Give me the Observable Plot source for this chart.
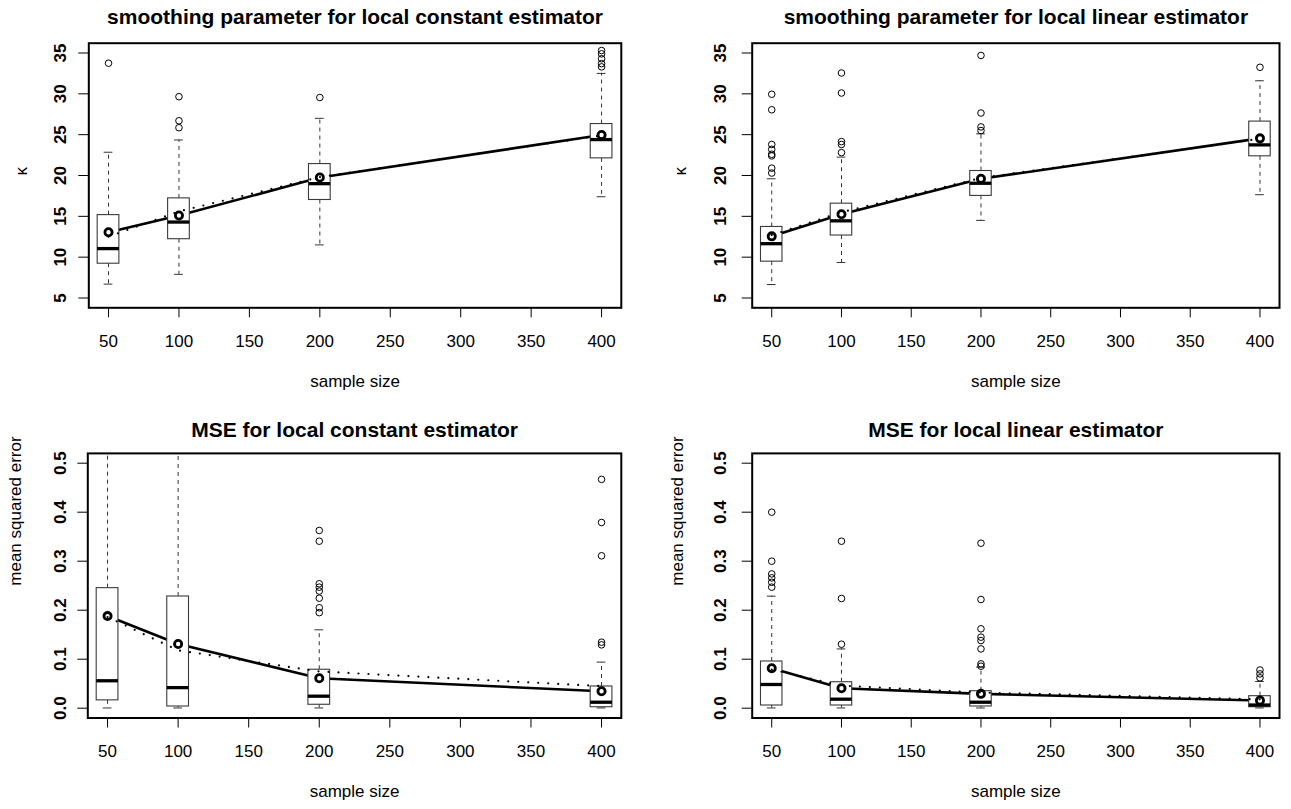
<!DOCTYPE html>
<html>
<head>
<meta charset="utf-8">
<script src="https://cdn.jsdelivr.net/npm/d3@7"></script>
<script src="https://cdn.jsdelivr.net/npm/@observablehq/plot@0.6"></script>
<style>
  html, body { margin: 0; padding: 0; background: white; }
  #wrap { position: relative; width: 1291px; height: 809px; overflow: hidden; background: white; }
  #wrap svg { position: absolute; }
</style>
</head>
<body>
<div id="wrap"></div>
<script>
// ---------- data ----------
const sizes = [50, 100, 200, 400];
const xTicks = [50, 100, 150, 200, 250, 300, 350, 400];
const kappaTicks = [5, 10, 15, 20, 25, 30, 35];
const mseTicks = [0, 0.1, 0.2, 0.3, 0.4, 0.5];

const titles = [
  "smoothing parameter for local constant estimator",
  "smoothing parameter for local linear estimator",
  "MSE for local constant estimator",
  "MSE for local linear estimator"
];
const xLabel = "sample size";
const kappaLabel = "κ";
const mseLabel = "mean squared error";

// local constant, kappa
const kcQ1 = [9.2, 12.2, 17.0, 22.1];
const kcMed = [11.05, 14.3, 19.0, 24.4];
const kcQ3 = [15.15, 17.2, 21.4, 26.3];
const kcLo = [6.7, 7.9, 11.5, 17.4];
const kcHi = [22.85, 24.35, 27.0, 32.5];
const kcMean = [13.06, 15.1, 19.75, 24.95];
const kcRef = [12.5, 15.6, 19.8, 24.9];
const kcOut = [[33.75], [29.65, 26.7, 25.85], [29.55], [35.3, 34.9, 34.3, 33.7, 33.3]];

// local linear, kappa
const klQ1 = [9.45, 12.65, 17.5, 22.35];
const klMed = [11.65, 14.45, 19.05, 23.75];
const klQ3 = [13.7, 16.55, 20.55, 26.6];
const klLo = [6.65, 9.35, 14.5, 17.65];
const klHi = [19.6, 22.25, 25.1, 31.6];
const klMean = [12.55, 15.25, 19.6, 24.55];
const klRef = [12.7, 15.5, 19.7, 24.5];
const klOut = [[29.95, 28.05, 23.8, 23.2, 22.6, 22.4, 20.9, 20.3], [32.55, 30.1, 24.15, 23.8, 22.8], [34.7, 27.65, 25.95, 25.5], [33.25]];

// local constant, MSE
const mcQ1 = [0.016, 0.0035, 0.007, 0.002];
const mcMed = [0.056, 0.042, 0.0245, 0.0122];
const mcQ3 = [0.245, 0.228, 0.0785, 0.0443];
const mcLo = [0.0005, 0.0005, 0.0005, 0.0005];
const mcHi = [0.68, 0.75, 0.16, 0.094];
const mcMean = [0.188, 0.131, 0.061, 0.0347];
const mcRef = [0.186, 0.118, 0.075, 0.045];
const mcOut = [[], [], [0.3627, 0.3408, 0.254, 0.247, 0.239, 0.2245, 0.205, 0.195], [0.467, 0.379, 0.311, 0.1347, 0.1293]];

// local linear, MSE
const mlQ1 = [0.0055, 0.0055, 0.0035, 0.002];
const mlMed = [0.0484, 0.0184, 0.0122, 0.0065];
const mlQ3 = [0.0953, 0.053, 0.0347, 0.0245];
const mlLo = [0.0005, 0.0005, 0.0005, 0.0005];
const mlHi = [0.2286, 0.121, 0.0837, 0.0545];
const mlMean = [0.0817, 0.0408, 0.0293, 0.0157];
const mlRef = [0.079, 0.046, 0.032, 0.018];
const mlOut = [[0.4, 0.3, 0.274, 0.266, 0.257, 0.247], [0.3408, 0.2239, 0.1306], [0.3367, 0.2218, 0.162, 0.145, 0.138, 0.121, 0.0905, 0.0857], [0.078, 0.07, 0.062]];

// ---------- drawing ----------
const FONT = "'Liberation Sans', Arial, Helvetica, sans-serif";
const BW = 7.7;   // half box width (x units)
const CW = 3.1;   // half whisker cap width

function rowsOf(q1, med, q3, lo, hi, mean, ref) {
  return sizes.map((n, i) => ({n, q1: q1[i], med: med[i], q3: q3[i], lo: lo[i], hi: hi[i], mean: mean[i], ref: ref[i]}));
}
function outsOf(out) {
  return out.flatMap((vals, i) => vals.map(v => ({n: sizes[i], v})));
}

function panel(cfg) {
  const rows = rowsOf(...cfg.stats);
  const outs = outsOf(cfg.out);
  const svg = Plot.plot({
    width: cfg.width, height: cfg.height,
    marginLeft: cfg.ml, marginRight: cfg.mr, marginTop: cfg.mt, marginBottom: cfg.mb,
    style: {fontFamily: FONT, fontSize: "17px", background: "white", overflow: "visible", color: "black"},
    x: {domain: [36, 414]},
    y: {domain: cfg.yDomain},
    marks: [
      Plot.line(rows, {x: "n", y: "mean", stroke: "black", strokeWidth: 2.6}),
      Plot.ruleX(rows, {x: "n", y1: "q3", y2: "hi", stroke: "#333", strokeWidth: 1, strokeDasharray: "4,4", clip: true}),
      Plot.ruleX(rows, {x: "n", y1: "q1", y2: "lo", stroke: "#333", strokeWidth: 1, strokeDasharray: "4,4", clip: true}),
      Plot.ruleY(rows, {y: "hi", x1: d => d.n - CW, x2: d => d.n + CW, stroke: "#333", strokeWidth: 1, clip: true}),
      Plot.ruleY(rows, {y: "lo", x1: d => d.n - CW, x2: d => d.n + CW, stroke: "#333", strokeWidth: 1, clip: true}),
      Plot.rect(rows, {x1: d => d.n - BW, x2: d => d.n + BW, y1: "q1", y2: "q3", fill: "white", stroke: "#3a3a3a", strokeWidth: 1.1}),
      Plot.ruleY(rows, {y: "med", x1: d => d.n - BW, x2: d => d.n + BW, stroke: "black", strokeWidth: 3.3}),
      Plot.line(rows, {x: "n", y: "ref", stroke: "black", strokeWidth: 2.2, strokeDasharray: "0,10", strokeLinecap: "round"}),
      Plot.dot(outs, {x: "n", y: "v", r: 3.3, stroke: "black", strokeWidth: 1, fill: "none"}),
      Plot.dot(rows, {x: "n", y: "mean", r: 3.6, stroke: "black", strokeWidth: 2.8, fill: "none"}),
      Plot.frame({stroke: "black", strokeWidth: 2}),
      Plot.axisX(xTicks, {tickSize: 10, tickPadding: 17, label: null, fontSize: 17}),
      Plot.axisY(cfg.yTicks, {tickSize: 10, tickRotate: -90, tickPadding: cfg.yPad, label: null, fontSize: 17, fontWeight: "bold", tickFormat: cfg.fmt}),
      Plot.text([cfg.title], {frameAnchor: "top", dy: cfg.titleDy, lineAnchor: "bottom", fontSize: 21, fontWeight: "bold"}),
      Plot.text([xLabel], {frameAnchor: "bottom", dy: 79, lineAnchor: "bottom", fontSize: 17}),
      Plot.text([cfg.yLabel], {frameAnchor: "left", rotate: -90, dx: cfg.yLabelDx, lineAnchor: "bottom", fontSize: 17})
    ]
  });
  svg.style.left = cfg.left + "px";
  svg.style.top = cfg.top + "px";
  document.getElementById("wrap").appendChild(svg);
}

const fmtK = d => String(d);
const fmtM = d3.format(".1f");

panel({left: 0, top: 0, width: 645, height: 404, ml: 88.3, mr: 24.2, mt: 42.7, mb: 96.7,
  yDomain: [3.8, 36.2], yTicks: kappaTicks, fmt: fmtK, yPad: 12.6, yLabel: kappaLabel, yLabelDx: -62,
  title: titles[0], titleDy: -19.4,
  stats: [kcQ1, kcMed, kcQ3, kcLo, kcHi, kcMean, kcRef], out: kcOut});
panel({left: 645, top: 0, width: 646, height: 404, ml: 106.7, mr: 12, mt: 42.7, mb: 96.7,
  yDomain: [3.8, 36.2], yTicks: kappaTicks, fmt: fmtK, yPad: 16.7, yLabel: kappaLabel, yLabelDx: -66.7,
  title: titles[1], titleDy: -19.4,
  stats: [klQ1, klMed, klQ3, klLo, klHi, klMean, klRef], out: klOut});
panel({left: 0, top: 404, width: 645, height: 405, ml: 87.3, mr: 24.2, mt: 48.9, mb: 91.5,
  yDomain: [-0.02, 0.52], yTicks: mseTicks, fmt: fmtM, yPad: 12.3, yLabel: mseLabel, yLabelDx: -67,
  title: titles[2], titleDy: -16.9,
  stats: [mcQ1, mcMed, mcQ3, mcLo, mcHi, mcMean, mcRef], out: mcOut});
panel({left: 645, top: 404, width: 646, height: 405, ml: 106.7, mr: 12, mt: 48.9, mb: 91.5,
  yDomain: [-0.02, 0.52], yTicks: mseTicks, fmt: fmtM, yPad: 16.7, yLabel: mseLabel, yLabelDx: -69,
  title: titles[3], titleDy: -16.9,
  stats: [mlQ1, mlMed, mlQ3, mlLo, mlHi, mlMean, mlRef], out: mlOut});
</script>
</body>
</html>
